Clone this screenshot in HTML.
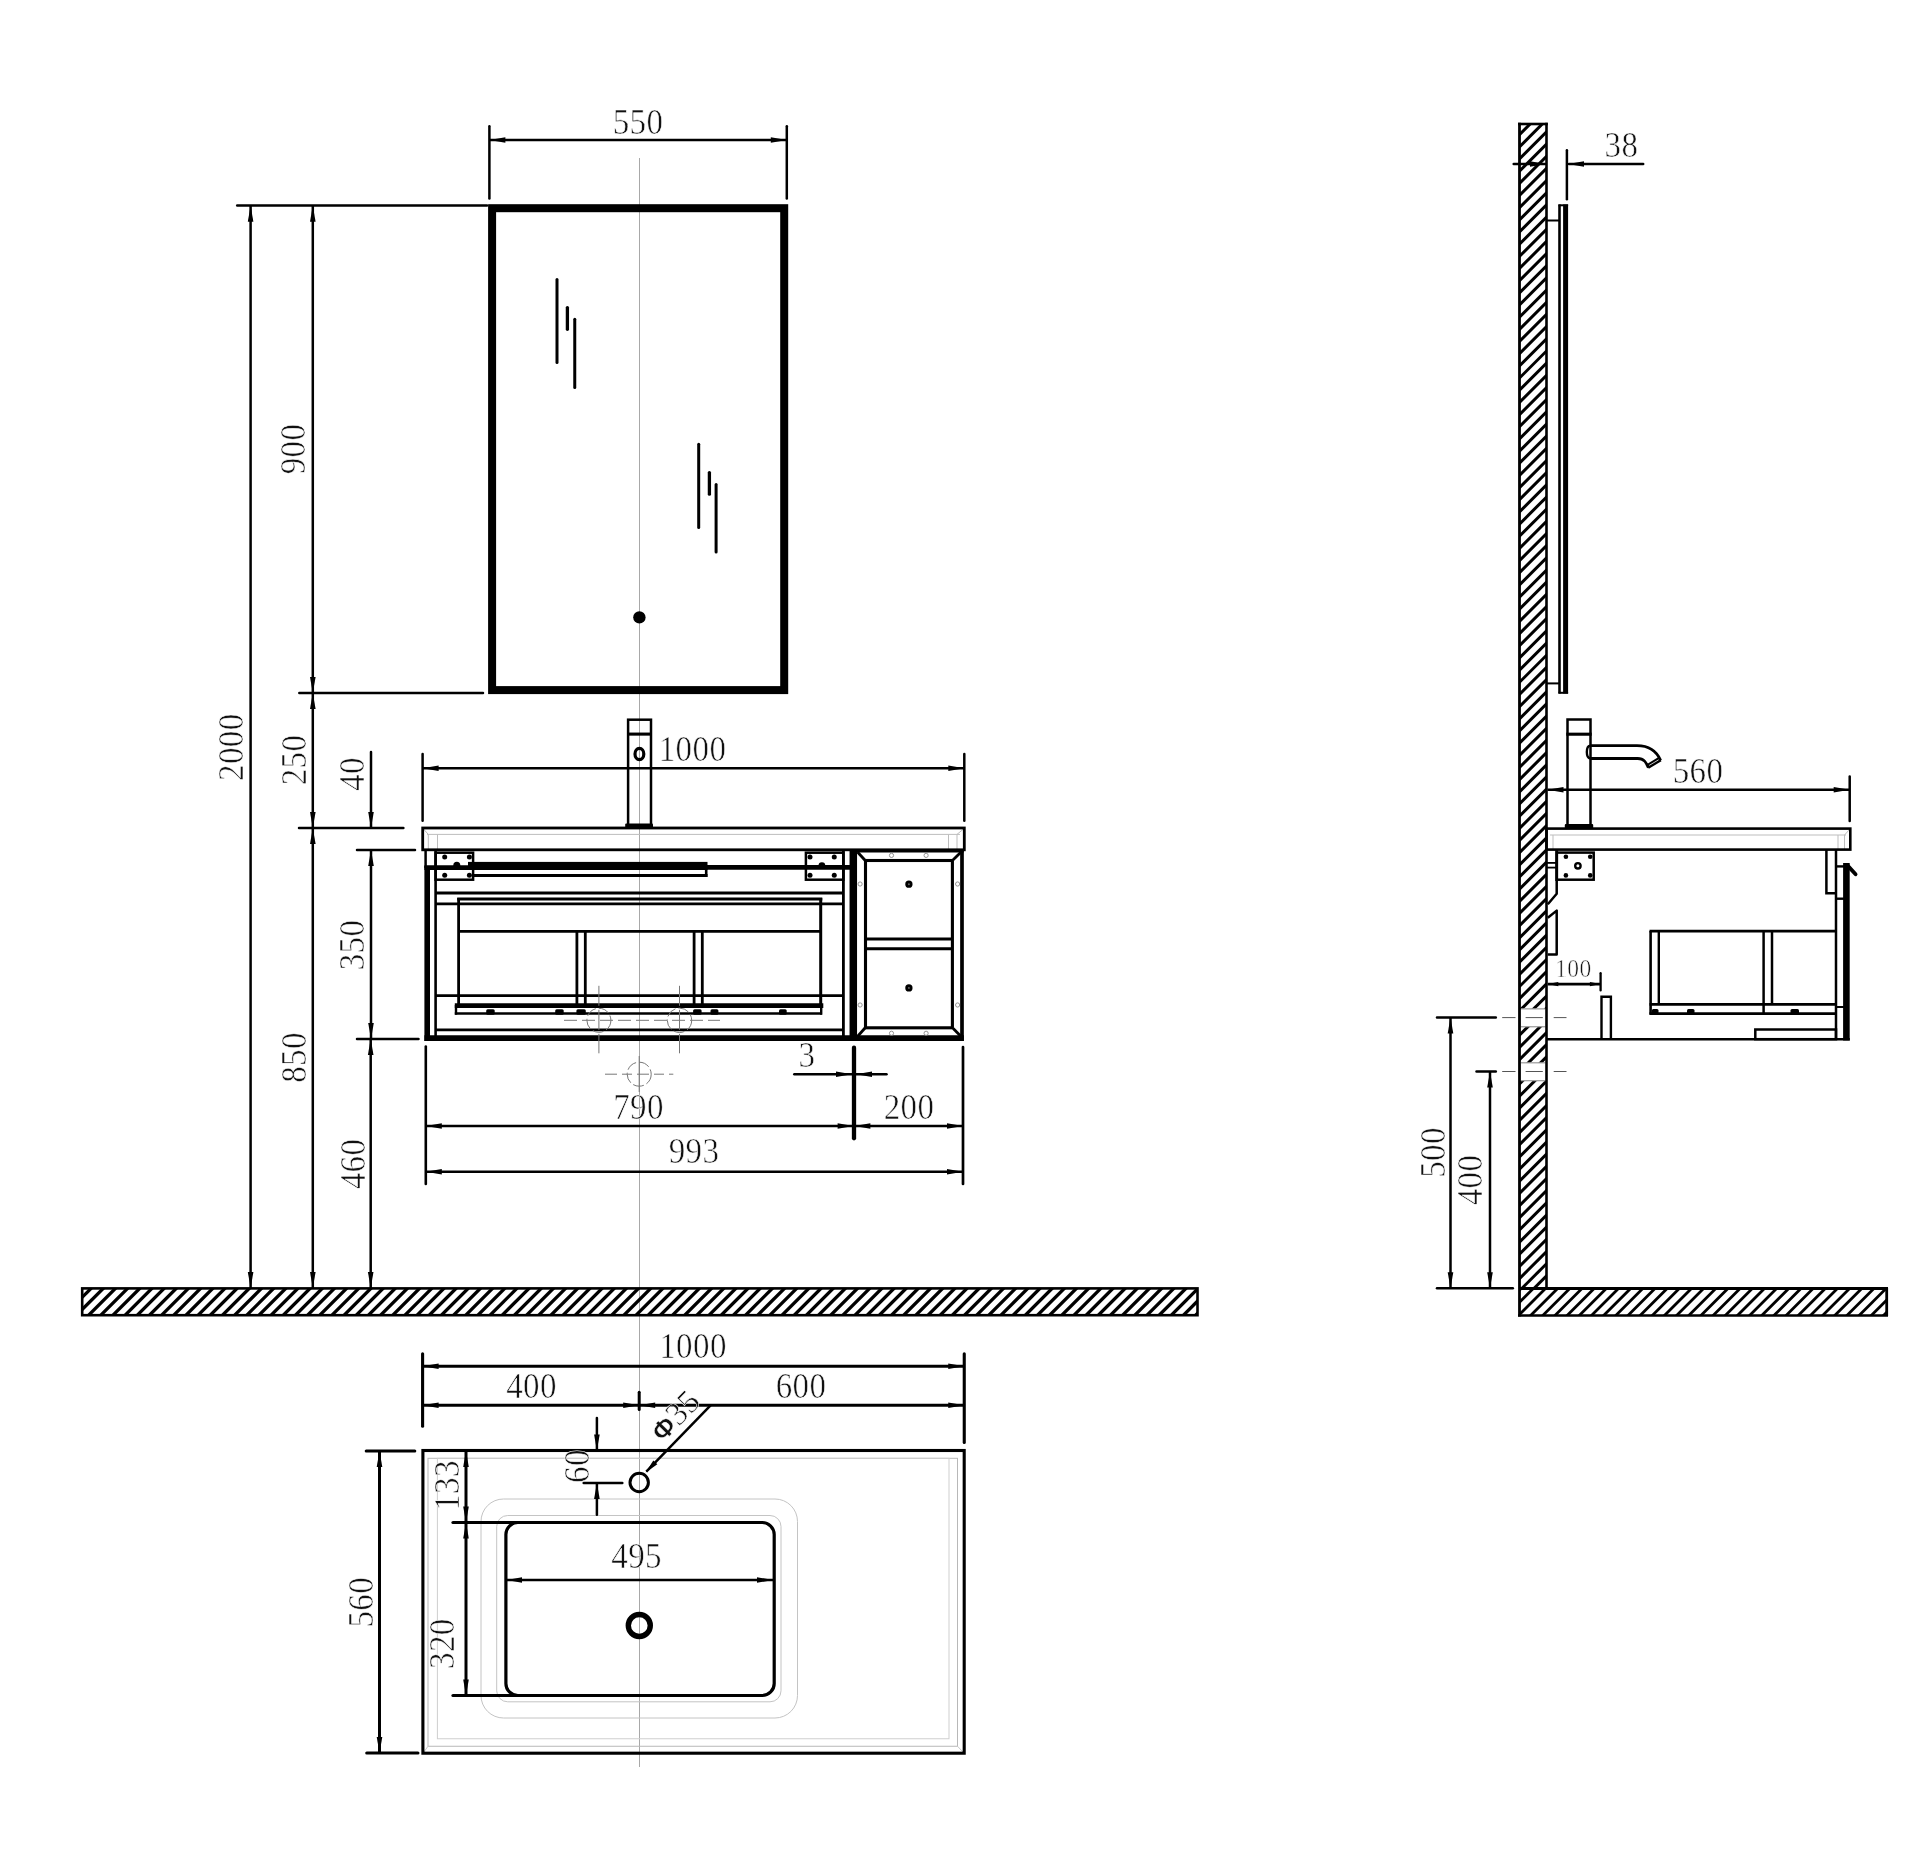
<!DOCTYPE html>
<html><head><meta charset="utf-8"><title>Vanity drawing</title>
<style>
html,body{margin:0;padding:0;background:#fff}
svg{display:block;will-change:transform}
text{font-family:"Liberation Serif",serif;fill:#111;letter-spacing:0.4px;stroke:#fff;stroke-width:0.55px}
</style></head><body>
<svg width="1920" height="1856" viewBox="0 0 1920 1856">
<rect width="1920" height="1856" fill="#fff"/>
<line x1="639.5" y1="158" x2="639.5" y2="1767" stroke="#a8a8a8" stroke-width="1" stroke-linecap="butt"/>
<clipPath id="hf"><rect x="82.2" y="1288.4" width="1115.3" height="26.8"/></clipPath>
<g clip-path="url(#hf)" stroke="#000" stroke-width="3.3">
<line x1="71.77" y1="1283.4" x2="34.97" y2="1320.2"/>
<line x1="83.94" y1="1283.4" x2="47.14" y2="1320.2"/>
<line x1="96.1" y1="1283.4" x2="59.3" y2="1320.2"/>
<line x1="108.26" y1="1283.4" x2="71.47" y2="1320.2"/>
<line x1="120.43" y1="1283.4" x2="83.63" y2="1320.2"/>
<line x1="132.59" y1="1283.4" x2="95.8" y2="1320.2"/>
<line x1="144.76" y1="1283.4" x2="107.96" y2="1320.2"/>
<line x1="156.92" y1="1283.4" x2="120.13" y2="1320.2"/>
<line x1="169.09" y1="1283.4" x2="132.29" y2="1320.2"/>
<line x1="181.25" y1="1283.4" x2="144.46" y2="1320.2"/>
<line x1="193.42" y1="1283.4" x2="156.62" y2="1320.2"/>
<line x1="205.58" y1="1283.4" x2="168.79" y2="1320.2"/>
<line x1="217.75" y1="1283.4" x2="180.95" y2="1320.2"/>
<line x1="229.91" y1="1283.4" x2="193.12" y2="1320.2"/>
<line x1="242.08" y1="1283.4" x2="205.28" y2="1320.2"/>
<line x1="254.24" y1="1283.4" x2="217.45" y2="1320.2"/>
<line x1="266.41" y1="1283.4" x2="229.61" y2="1320.2"/>
<line x1="278.57" y1="1283.4" x2="241.78" y2="1320.2"/>
<line x1="290.74" y1="1283.4" x2="253.94" y2="1320.2"/>
<line x1="302.9" y1="1283.4" x2="266.11" y2="1320.2"/>
<line x1="315.07" y1="1283.4" x2="278.27" y2="1320.2"/>
<line x1="327.24" y1="1283.4" x2="290.44" y2="1320.2"/>
<line x1="339.4" y1="1283.4" x2="302.6" y2="1320.2"/>
<line x1="351.56" y1="1283.4" x2="314.76" y2="1320.2"/>
<line x1="363.73" y1="1283.4" x2="326.93" y2="1320.2"/>
<line x1="375.89" y1="1283.4" x2="339.1" y2="1320.2"/>
<line x1="388.06" y1="1283.4" x2="351.26" y2="1320.2"/>
<line x1="400.23" y1="1283.4" x2="363.43" y2="1320.2"/>
<line x1="412.39" y1="1283.4" x2="375.59" y2="1320.2"/>
<line x1="424.55" y1="1283.4" x2="387.75" y2="1320.2"/>
<line x1="436.72" y1="1283.4" x2="399.92" y2="1320.2"/>
<line x1="448.88" y1="1283.4" x2="412.09" y2="1320.2"/>
<line x1="461.05" y1="1283.4" x2="424.25" y2="1320.2"/>
<line x1="473.21" y1="1283.4" x2="436.41" y2="1320.2"/>
<line x1="485.38" y1="1283.4" x2="448.58" y2="1320.2"/>
<line x1="497.54" y1="1283.4" x2="460.75" y2="1320.2"/>
<line x1="509.71" y1="1283.4" x2="472.91" y2="1320.2"/>
<line x1="521.88" y1="1283.4" x2="485.08" y2="1320.2"/>
<line x1="534.04" y1="1283.4" x2="497.24" y2="1320.2"/>
<line x1="546.2" y1="1283.4" x2="509.4" y2="1320.2"/>
<line x1="558.37" y1="1283.4" x2="521.57" y2="1320.2"/>
<line x1="570.53" y1="1283.4" x2="533.74" y2="1320.2"/>
<line x1="582.7" y1="1283.4" x2="545.9" y2="1320.2"/>
<line x1="594.87" y1="1283.4" x2="558.07" y2="1320.2"/>
<line x1="607.03" y1="1283.4" x2="570.23" y2="1320.2"/>
<line x1="619.19" y1="1283.4" x2="582.39" y2="1320.2"/>
<line x1="631.36" y1="1283.4" x2="594.56" y2="1320.2"/>
<line x1="643.52" y1="1283.4" x2="606.73" y2="1320.2"/>
<line x1="655.69" y1="1283.4" x2="618.89" y2="1320.2"/>
<line x1="667.86" y1="1283.4" x2="631.06" y2="1320.2"/>
<line x1="680.02" y1="1283.4" x2="643.22" y2="1320.2"/>
<line x1="692.18" y1="1283.4" x2="655.38" y2="1320.2"/>
<line x1="704.35" y1="1283.4" x2="667.55" y2="1320.2"/>
<line x1="716.51" y1="1283.4" x2="679.72" y2="1320.2"/>
<line x1="728.68" y1="1283.4" x2="691.88" y2="1320.2"/>
<line x1="740.85" y1="1283.4" x2="704.05" y2="1320.2"/>
<line x1="753.01" y1="1283.4" x2="716.21" y2="1320.2"/>
<line x1="765.17" y1="1283.4" x2="728.38" y2="1320.2"/>
<line x1="777.34" y1="1283.4" x2="740.54" y2="1320.2"/>
<line x1="789.5" y1="1283.4" x2="752.71" y2="1320.2"/>
<line x1="801.67" y1="1283.4" x2="764.87" y2="1320.2"/>
<line x1="813.83" y1="1283.4" x2="777.03" y2="1320.2"/>
<line x1="826" y1="1283.4" x2="789.2" y2="1320.2"/>
<line x1="838.16" y1="1283.4" x2="801.37" y2="1320.2"/>
<line x1="850.33" y1="1283.4" x2="813.53" y2="1320.2"/>
<line x1="862.5" y1="1283.4" x2="825.7" y2="1320.2"/>
<line x1="874.66" y1="1283.4" x2="837.86" y2="1320.2"/>
<line x1="886.82" y1="1283.4" x2="850.02" y2="1320.2"/>
<line x1="898.99" y1="1283.4" x2="862.19" y2="1320.2"/>
<line x1="911.15" y1="1283.4" x2="874.36" y2="1320.2"/>
<line x1="923.32" y1="1283.4" x2="886.52" y2="1320.2"/>
<line x1="935.49" y1="1283.4" x2="898.69" y2="1320.2"/>
<line x1="947.65" y1="1283.4" x2="910.85" y2="1320.2"/>
<line x1="959.81" y1="1283.4" x2="923.01" y2="1320.2"/>
<line x1="971.98" y1="1283.4" x2="935.18" y2="1320.2"/>
<line x1="984.14" y1="1283.4" x2="947.35" y2="1320.2"/>
<line x1="996.31" y1="1283.4" x2="959.51" y2="1320.2"/>
<line x1="1008.47" y1="1283.4" x2="971.67" y2="1320.2"/>
<line x1="1020.64" y1="1283.4" x2="983.84" y2="1320.2"/>
<line x1="1032.8" y1="1283.4" x2="996" y2="1320.2"/>
<line x1="1044.97" y1="1283.4" x2="1008.17" y2="1320.2"/>
<line x1="1057.13" y1="1283.4" x2="1020.34" y2="1320.2"/>
<line x1="1069.3" y1="1283.4" x2="1032.5" y2="1320.2"/>
<line x1="1081.46" y1="1283.4" x2="1044.66" y2="1320.2"/>
<line x1="1093.63" y1="1283.4" x2="1056.83" y2="1320.2"/>
<line x1="1105.79" y1="1283.4" x2="1068.99" y2="1320.2"/>
<line x1="1117.96" y1="1283.4" x2="1081.16" y2="1320.2"/>
<line x1="1130.12" y1="1283.4" x2="1093.32" y2="1320.2"/>
<line x1="1142.29" y1="1283.4" x2="1105.49" y2="1320.2"/>
<line x1="1154.45" y1="1283.4" x2="1117.65" y2="1320.2"/>
<line x1="1166.62" y1="1283.4" x2="1129.82" y2="1320.2"/>
<line x1="1178.78" y1="1283.4" x2="1141.98" y2="1320.2"/>
<line x1="1190.95" y1="1283.4" x2="1154.15" y2="1320.2"/>
<line x1="1203.11" y1="1283.4" x2="1166.31" y2="1320.2"/>
<line x1="1215.28" y1="1283.4" x2="1178.48" y2="1320.2"/>
<line x1="1227.44" y1="1283.4" x2="1190.64" y2="1320.2"/>
<line x1="1239.61" y1="1283.4" x2="1202.81" y2="1320.2"/>
</g>
<rect x="82.2" y="1288.4" width="1115.3" height="26.8" rx="0" fill="none" stroke="#000" stroke-width="2.6"/>
<rect x="492.1" y="208.2" width="292.1" height="481.9" rx="0" fill="none" stroke="#000" stroke-width="8"/>
<line x1="557" y1="279.4" x2="557" y2="362.6" stroke="#000" stroke-width="3" stroke-linecap="round"/>
<line x1="567.4" y1="307.62" x2="567.4" y2="329.28" stroke="#000" stroke-width="3.3" stroke-linecap="round"/>
<line x1="574.75" y1="319.3" x2="574.75" y2="387.5" stroke="#000" stroke-width="3" stroke-linecap="round"/>
<line x1="698.7" y1="444.3" x2="698.7" y2="527.5" stroke="#000" stroke-width="3" stroke-linecap="round"/>
<line x1="709.4" y1="472.57" x2="709.4" y2="494.18" stroke="#000" stroke-width="3.3" stroke-linecap="round"/>
<line x1="716.1" y1="484.45" x2="716.1" y2="552.05" stroke="#000" stroke-width="3" stroke-linecap="round"/>
<circle cx="639.4" cy="617.4" r="6.2" fill="#000"/>
<line x1="489.4" y1="126.3" x2="489.4" y2="198.4" stroke="#000" stroke-width="2.5" stroke-linecap="round"/>
<line x1="786.8" y1="126.3" x2="786.8" y2="198.4" stroke="#000" stroke-width="2.5" stroke-linecap="round"/>
<line x1="489.4" y1="140" x2="786.8" y2="140" stroke="#000" stroke-width="2.5" stroke-linecap="butt"/>
<polygon points="489.4,140 505.4,137.2 505.4,142.8" fill="#000"/>
<polygon points="786.8,140 770.8,142.8 770.8,137.2" fill="#000"/>
<text font-size="33" text-anchor="middle" transform="translate(638 134.1) scale(1 1.06)">550</text>
<line x1="237.2" y1="205.5" x2="487" y2="205.5" stroke="#000" stroke-width="2.5" stroke-linecap="round"/>
<line x1="299.3" y1="693" x2="483" y2="693" stroke="#000" stroke-width="2.5" stroke-linecap="round"/>
<line x1="299" y1="828.1" x2="403.4" y2="828.1" stroke="#000" stroke-width="2.5" stroke-linecap="round"/>
<line x1="250.6" y1="205.8" x2="250.6" y2="1288" stroke="#000" stroke-width="2.5" stroke-linecap="butt"/>
<polygon points="250.6,205.8 253.4,221.8 247.8,221.8" fill="#000"/>
<polygon points="250.6,1288 247.8,1272 253.4,1272" fill="#000"/>
<line x1="312.8" y1="205.8" x2="312.8" y2="693" stroke="#000" stroke-width="2.5" stroke-linecap="butt"/>
<polygon points="312.8,205.8 315.6,221.8 310,221.8" fill="#000"/>
<polygon points="312.8,693 310,677 315.6,677" fill="#000"/>
<line x1="312.8" y1="693" x2="312.8" y2="828.1" stroke="#000" stroke-width="2.5" stroke-linecap="butt"/>
<polygon points="312.8,693 315.6,709 310,709" fill="#000"/>
<polygon points="312.8,828.1 310,812.1 315.6,812.1" fill="#000"/>
<line x1="312.8" y1="828.1" x2="312.8" y2="1288" stroke="#000" stroke-width="2.5" stroke-linecap="butt"/>
<polygon points="312.8,828.1 315.6,844.1 310,844.1" fill="#000"/>
<polygon points="312.8,1288 310,1272 315.6,1272" fill="#000"/>
<text font-size="33" text-anchor="middle" transform="translate(304.6 449) rotate(-90) scale(1 1.06)">900</text>
<text font-size="33" text-anchor="middle" transform="translate(305.6 760) rotate(-90) scale(1 1.06)">250</text>
<text font-size="33" text-anchor="middle" transform="translate(305.6 1057.5) rotate(-90) scale(1 1.06)">850</text>
<text font-size="33" text-anchor="middle" transform="translate(243.35 747.2) rotate(-90) scale(1 1.06)">2000</text>
<line x1="371" y1="752" x2="371" y2="827" stroke="#000" stroke-width="2.5" stroke-linecap="round"/>
<polygon points="371,828 368.2,812 373.8,812" fill="#000"/>
<text font-size="33" text-anchor="middle" transform="translate(364.1 774) rotate(-90) scale(1 1.06)">40</text>
<line x1="357" y1="850" x2="415" y2="850" stroke="#000" stroke-width="2.5" stroke-linecap="round"/>
<line x1="357" y1="1039" x2="418.5" y2="1039" stroke="#000" stroke-width="2.5" stroke-linecap="round"/>
<line x1="371" y1="850" x2="371" y2="1039" stroke="#000" stroke-width="2.5" stroke-linecap="butt"/>
<polygon points="371,850 373.8,866 368.2,866" fill="#000"/>
<polygon points="371,1039 368.2,1023 373.8,1023" fill="#000"/>
<text font-size="33" text-anchor="middle" transform="translate(364.1 945) rotate(-90) scale(1 1.06)">350</text>
<line x1="370.7" y1="1039" x2="370.7" y2="1288" stroke="#000" stroke-width="2.5" stroke-linecap="butt"/>
<polygon points="370.7,1039 373.5,1055 367.9,1055" fill="#000"/>
<polygon points="370.7,1288 367.9,1272 373.5,1272" fill="#000"/>
<text font-size="33" text-anchor="middle" transform="translate(364.6 1164) rotate(-90) scale(1 1.06)">460</text>
<line x1="422.6" y1="754" x2="422.6" y2="820.7" stroke="#000" stroke-width="2.5" stroke-linecap="round"/>
<line x1="964.3" y1="754" x2="964.3" y2="820.7" stroke="#000" stroke-width="2.5" stroke-linecap="round"/>
<line x1="422.6" y1="768.3" x2="964.3" y2="768.3" stroke="#000" stroke-width="2.5" stroke-linecap="butt"/>
<polygon points="422.6,768.3 438.6,765.5 438.6,771.1" fill="#000"/>
<polygon points="964.3,768.3 948.3,771.1 948.3,765.5" fill="#000"/>
<text font-size="33" text-anchor="middle" transform="translate(692.5 760.5) scale(1 1.06)">1000</text>
<rect x="628.1" y="719.7" width="22.9" height="106.3" rx="0" fill="none" stroke="#000" stroke-width="2.5"/>
<line x1="627" y1="734.1" x2="652" y2="734.1" stroke="#000" stroke-width="3.1" stroke-linecap="butt"/>
<rect x="625.2" y="823.6" width="27.8" height="5.4" rx="1" fill="#000"/>
<ellipse cx="639.4" cy="754" rx="4.4" ry="5.7" fill="none" stroke="#000" stroke-width="3.2"/>
<line x1="427" y1="834.4" x2="960" y2="834.4" stroke="#bdbdbd" stroke-width="1" stroke-linecap="butt"/>
<line x1="428.3" y1="834.4" x2="428.3" y2="849" stroke="#bdbdbd" stroke-width="1" stroke-linecap="butt"/>
<line x1="437.5" y1="834.4" x2="437.5" y2="849" stroke="#bdbdbd" stroke-width="1" stroke-linecap="butt"/>
<line x1="948.5" y1="834.4" x2="948.5" y2="849" stroke="#bdbdbd" stroke-width="1" stroke-linecap="butt"/>
<line x1="957" y1="834.4" x2="957" y2="849" stroke="#bdbdbd" stroke-width="1" stroke-linecap="butt"/>
<line x1="957" y1="834.4" x2="963.5" y2="829" stroke="#bdbdbd" stroke-width="1" stroke-linecap="butt"/>
<line x1="428.3" y1="834.4" x2="423.5" y2="829" stroke="#bdbdbd" stroke-width="1" stroke-linecap="butt"/>
<rect x="422.7" y="828" width="541.6" height="21.8" rx="0" fill="none" stroke="#000" stroke-width="2.8"/>
<line x1="425.6" y1="850" x2="425.6" y2="868" stroke="#000" stroke-width="2.5" stroke-linecap="butt"/>
<line x1="427.2" y1="866" x2="427.2" y2="1040.9" stroke="#000" stroke-width="5.6" stroke-linecap="butt"/>
<line x1="435.6" y1="850" x2="435.6" y2="1038" stroke="#000" stroke-width="2.6" stroke-linecap="butt"/>
<line x1="424.4" y1="867.7" x2="468.5" y2="867.7" stroke="#000" stroke-width="4.7" stroke-linecap="butt"/>
<rect x="435.6" y="852.7" width="37.5" height="27" rx="0" fill="none" stroke="#000" stroke-width="2.5"/>
<circle cx="444.7" cy="856.9" r="2.5" fill="#000"/>
<circle cx="444.7" cy="875.3" r="2.5" fill="#000"/>
<circle cx="469.4" cy="856.9" r="2.5" fill="#000"/>
<circle cx="469.4" cy="875.3" r="2.5" fill="#000"/>
<circle cx="456.8" cy="865.3" r="3.5" fill="#000"/>
<rect x="468" y="861.9" width="239.5" height="8.1" rx="0" fill="#000"/>
<line x1="473" y1="875.5" x2="707.5" y2="875.5" stroke="#000" stroke-width="2.8" stroke-linecap="butt"/>
<line x1="706.2" y1="869" x2="706.2" y2="876.9" stroke="#000" stroke-width="2.6" stroke-linecap="butt"/>
<line x1="707" y1="867.3" x2="851" y2="867.3" stroke="#000" stroke-width="4.7" stroke-linecap="butt"/>
<rect x="805.9" y="852.7" width="37.5" height="27" rx="0" fill="none" stroke="#000" stroke-width="2.5"/>
<circle cx="810" cy="856.9" r="2.5" fill="#000"/>
<circle cx="810" cy="875.3" r="2.5" fill="#000"/>
<circle cx="834.25" cy="856.9" r="2.5" fill="#000"/>
<circle cx="834.25" cy="875.3" r="2.5" fill="#000"/>
<circle cx="821.9" cy="865.6" r="3.4" fill="#000"/>
<line x1="843.4" y1="850" x2="843.4" y2="1038" stroke="#000" stroke-width="2.8" stroke-linecap="butt"/>
<line x1="853.3" y1="850" x2="853.3" y2="1040.9" stroke="#000" stroke-width="7.5" stroke-linecap="butt"/>
<line x1="435.6" y1="893" x2="843.4" y2="893" stroke="#000" stroke-width="2.8" stroke-linecap="butt"/>
<line x1="435.6" y1="903.9" x2="843.4" y2="903.9" stroke="#000" stroke-width="2.7" stroke-linecap="butt"/>
<line x1="457.2" y1="898.9" x2="822.3" y2="898.9" stroke="#000" stroke-width="3" stroke-linecap="butt"/>
<line x1="458.6" y1="898" x2="458.6" y2="1004" stroke="#000" stroke-width="2.8" stroke-linecap="butt"/>
<line x1="820.7" y1="898" x2="820.7" y2="1004" stroke="#000" stroke-width="3" stroke-linecap="butt"/>
<line x1="458" y1="931.4" x2="821" y2="931.4" stroke="#000" stroke-width="2.8" stroke-linecap="butt"/>
<line x1="576.9" y1="931" x2="576.9" y2="1004" stroke="#000" stroke-width="2.8" stroke-linecap="butt"/>
<line x1="585.3" y1="931" x2="585.3" y2="1004" stroke="#000" stroke-width="2.8" stroke-linecap="butt"/>
<line x1="694.1" y1="931" x2="694.1" y2="1004" stroke="#000" stroke-width="2.8" stroke-linecap="butt"/>
<line x1="702.3" y1="931" x2="702.3" y2="1004" stroke="#000" stroke-width="2.8" stroke-linecap="butt"/>
<line x1="435.6" y1="995.7" x2="843.4" y2="995.7" stroke="#000" stroke-width="2.8" stroke-linecap="butt"/>
<line x1="454.8" y1="1005.6" x2="823.3" y2="1005.6" stroke="#000" stroke-width="4.7" stroke-linecap="butt"/>
<line x1="454.8" y1="1013.5" x2="822" y2="1013.5" stroke="#000" stroke-width="2.5" stroke-linecap="butt"/>
<line x1="456" y1="1005" x2="456" y2="1014.7" stroke="#000" stroke-width="2.4" stroke-linecap="butt"/>
<line x1="821.2" y1="1005" x2="821.2" y2="1014.7" stroke="#000" stroke-width="2.4" stroke-linecap="butt"/>
<rect x="486.2" y="1009.2" width="8.5" height="5.6" rx="1.5" fill="#000"/>
<rect x="555.2" y="1009.2" width="8.5" height="5.6" rx="1.5" fill="#000"/>
<rect x="576.4" y="1009.2" width="9.4" height="5.6" rx="1.5" fill="#000"/>
<rect x="693.1" y="1009.2" width="8.5" height="5.6" rx="1.5" fill="#000"/>
<rect x="710.5" y="1009.2" width="7.9" height="5.6" rx="1.5" fill="#000"/>
<rect x="779" y="1009.2" width="7.7" height="5.6" rx="1.5" fill="#000"/>
<line x1="435.6" y1="1029.8" x2="843.4" y2="1029.8" stroke="#000" stroke-width="2.7" stroke-linecap="butt"/>
<line x1="424.4" y1="1038.1" x2="963.9" y2="1038.1" stroke="#000" stroke-width="5.6" stroke-linecap="butt"/>
<line x1="853" y1="851.4" x2="963.8" y2="851.4" stroke="#000" stroke-width="2" stroke-linecap="butt"/>
<line x1="962" y1="850" x2="962" y2="1040.9" stroke="#000" stroke-width="3.7" stroke-linecap="butt"/>
<rect x="865.5" y="860.5" width="86.9" height="167.3" rx="0" fill="none" stroke="#000" stroke-width="3.1"/>
<line x1="857.5" y1="852" x2="865" y2="860.3" stroke="#000" stroke-width="2.8" stroke-linecap="butt"/>
<line x1="961.6" y1="851.4" x2="953.2" y2="859.8" stroke="#000" stroke-width="2.8" stroke-linecap="butt"/>
<line x1="857.5" y1="1036.5" x2="865" y2="1028" stroke="#000" stroke-width="2.8" stroke-linecap="butt"/>
<line x1="961.6" y1="1037" x2="953.2" y2="1028.4" stroke="#000" stroke-width="2.8" stroke-linecap="butt"/>
<line x1="865.5" y1="939" x2="952.4" y2="939" stroke="#000" stroke-width="3" stroke-linecap="butt"/>
<line x1="865.5" y1="948.7" x2="952.4" y2="948.7" stroke="#000" stroke-width="3" stroke-linecap="butt"/>
<circle cx="908.9" cy="884.2" r="2.3" fill="#666" stroke="#000" stroke-width="2.7"/>
<circle cx="908.9" cy="987.9" r="2.3" fill="#666" stroke="#000" stroke-width="2.7"/>
<circle cx="891.5" cy="855.4" r="2.1" fill="none" stroke="#8a8a8a" stroke-width="0.9"/>
<circle cx="926.1" cy="855.4" r="2.1" fill="none" stroke="#8a8a8a" stroke-width="0.9"/>
<circle cx="860.1" cy="884" r="2.1" fill="none" stroke="#8a8a8a" stroke-width="0.9"/>
<circle cx="957.6" cy="884" r="2.1" fill="none" stroke="#8a8a8a" stroke-width="0.9"/>
<circle cx="860.1" cy="1005" r="2.1" fill="none" stroke="#8a8a8a" stroke-width="0.9"/>
<circle cx="957.6" cy="1005" r="2.1" fill="none" stroke="#8a8a8a" stroke-width="0.9"/>
<circle cx="891.5" cy="1033.3" r="2.1" fill="none" stroke="#8a8a8a" stroke-width="0.9"/>
<circle cx="926.1" cy="1033.3" r="2.1" fill="none" stroke="#8a8a8a" stroke-width="0.9"/>
<circle cx="598.9" cy="1020.3" r="12" fill="none" stroke="#777" stroke-width="1" stroke-dasharray="11 3"/>
<circle cx="679.5" cy="1020.3" r="12.2" fill="none" stroke="#777" stroke-width="1" stroke-dasharray="11 3"/>
<circle cx="639.2" cy="1074.2" r="12" fill="none" stroke="#777" stroke-width="1" stroke-dasharray="11 3"/>
<line x1="564" y1="1020.3" x2="720" y2="1020.3" stroke="#777" stroke-width="1" stroke-linecap="butt" stroke-dasharray="13 5"/>
<line x1="598.9" y1="985.8" x2="598.9" y2="1053.3" stroke="#777" stroke-width="1" stroke-linecap="butt" stroke-dasharray="20 4"/>
<line x1="679.5" y1="985.8" x2="679.5" y2="1053.3" stroke="#777" stroke-width="1" stroke-linecap="butt" stroke-dasharray="20 4"/>
<line x1="605" y1="1074.2" x2="673.3" y2="1074.2" stroke="#777" stroke-width="1" stroke-linecap="butt" stroke-dasharray="12 5 10 5"/>
<line x1="639.2" y1="1056" x2="639.2" y2="1092" stroke="#777" stroke-width="1" stroke-linecap="butt"/>
<line x1="425.8" y1="1046.54" x2="425.8" y2="1183.96" stroke="#000" stroke-width="2.6" stroke-linecap="round"/>
<line x1="854" y1="1047.72" x2="854" y2="1138.28" stroke="#000" stroke-width="4.3" stroke-linecap="round"/>
<line x1="963" y1="1047.08" x2="963" y2="1183.92" stroke="#000" stroke-width="2.7" stroke-linecap="round"/>
<line x1="425.8" y1="1126" x2="853.6" y2="1126" stroke="#000" stroke-width="2.5" stroke-linecap="butt"/>
<polygon points="425.8,1126 441.8,1123.2 441.8,1128.8" fill="#000"/>
<polygon points="853.6,1126 837.6,1128.8 837.6,1123.2" fill="#000"/>
<line x1="854.4" y1="1126" x2="963" y2="1126" stroke="#000" stroke-width="2.5" stroke-linecap="butt"/>
<polygon points="854.4,1126 870.4,1123.2 870.4,1128.8" fill="#000"/>
<polygon points="963,1126 947,1128.8 947,1123.2" fill="#000"/>
<line x1="425.8" y1="1171.7" x2="963" y2="1171.7" stroke="#000" stroke-width="2.5" stroke-linecap="butt"/>
<polygon points="425.8,1171.7 441.8,1168.9 441.8,1174.5" fill="#000"/>
<polygon points="963,1171.7 947,1174.5 947,1168.9" fill="#000"/>
<text font-size="33" text-anchor="middle" transform="translate(638.5 1119) scale(1 1.06)">790</text>
<text font-size="33" text-anchor="middle" transform="translate(909 1119) scale(1 1.06)">200</text>
<text font-size="33" text-anchor="middle" transform="translate(694 1163.2) scale(1 1.06)">993</text>
<line x1="794.3" y1="1074.2" x2="852" y2="1074.2" stroke="#000" stroke-width="2.5" stroke-linecap="round"/>
<polygon points="852,1074.2 836,1077 836,1071.4" fill="#000"/>
<line x1="856" y1="1074.2" x2="886.5" y2="1074.2" stroke="#000" stroke-width="2.5" stroke-linecap="round"/>
<polygon points="856,1074.2 872,1071.4 872,1077" fill="#000"/>
<text font-size="33" text-anchor="middle" transform="translate(807 1066.5) scale(1 1.06)">3</text>
<line x1="422.6" y1="1353.74" x2="422.6" y2="1426.26" stroke="#000" stroke-width="3.1" stroke-linecap="round"/>
<line x1="964.25" y1="1353.74" x2="964.25" y2="1442.51" stroke="#000" stroke-width="3.1" stroke-linecap="round"/>
<line x1="422.6" y1="1366.25" x2="964.25" y2="1366.25" stroke="#000" stroke-width="3" stroke-linecap="butt"/>
<polygon points="422.6,1366.25 438.6,1363.45 438.6,1369.05" fill="#000"/>
<polygon points="964.25,1366.25 948.25,1369.05 948.25,1363.45" fill="#000"/>
<line x1="422.6" y1="1405.2" x2="639.2" y2="1405.2" stroke="#000" stroke-width="3" stroke-linecap="butt"/>
<polygon points="422.6,1405.2 438.6,1402.4 438.6,1408" fill="#000"/>
<polygon points="639.2,1405.2 623.2,1408 623.2,1402.4" fill="#000"/>
<line x1="639.2" y1="1405.2" x2="964.25" y2="1405.2" stroke="#000" stroke-width="3" stroke-linecap="butt"/>
<polygon points="639.2,1405.2 655.2,1402.4 655.2,1408" fill="#000"/>
<polygon points="964.25,1405.2 948.25,1408 948.25,1402.4" fill="#000"/>
<line x1="639.2" y1="1392.2" x2="639.2" y2="1409.4" stroke="#000" stroke-width="3" stroke-linecap="round"/>
<text font-size="33" text-anchor="middle" transform="translate(693 1358.2) scale(1 1.06)">1000</text>
<text font-size="33" text-anchor="middle" transform="translate(531.5 1398.2) scale(1 1.06)">400</text>
<text font-size="33" text-anchor="middle" transform="translate(801 1398.2) scale(1 1.06)">600</text>
<rect x="428" y="1458.3" width="529.5" height="287.95" rx="0" fill="none" stroke="#b8b8b8" stroke-width="1"/>
<rect x="437.4" y="1458.3" width="511.6" height="280.45" rx="0" fill="none" stroke="#cfcfcf" stroke-width="1"/>
<line x1="957.5" y1="1746.25" x2="963.5" y2="1752.5" stroke="#c8c8c8" stroke-width="1" stroke-linecap="butt"/>
<line x1="423.5" y1="1752.5" x2="428" y2="1746.25" stroke="#c8c8c8" stroke-width="1" stroke-linecap="butt"/>
<rect x="481" y="1499" width="316.5" height="219" rx="22.5" fill="none" stroke="#c4c4c4" stroke-width="1"/>
<rect x="496.7" y="1515.5" width="284.3" height="186.3" rx="11" fill="none" stroke="#c4c4c4" stroke-width="1"/>
<rect x="422.9" y="1450.5" width="541.3" height="302.7" rx="0" fill="none" stroke="#000" stroke-width="3.1"/>
<rect x="505.9" y="1522.5" width="268.3" height="173" rx="12" fill="none" stroke="#000" stroke-width="3.2"/>
<line x1="366.2" y1="1451" x2="414.8" y2="1451" stroke="#000" stroke-width="3" stroke-linecap="round"/>
<line x1="366.78" y1="1753" x2="417.92" y2="1753" stroke="#000" stroke-width="3.2" stroke-linecap="round"/>
<line x1="379.5" y1="1451" x2="379.5" y2="1753" stroke="#000" stroke-width="3" stroke-linecap="butt"/>
<polygon points="379.5,1451 382.3,1467 376.7,1467" fill="#000"/>
<polygon points="379.5,1753 376.7,1737 382.3,1737" fill="#000"/>
<text font-size="33" text-anchor="middle" transform="translate(372.9 1602.2) rotate(-90) scale(1 1.06)">560</text>
<line x1="452.98" y1="1522.5" x2="521.22" y2="1522.5" stroke="#000" stroke-width="3.2" stroke-linecap="round"/>
<line x1="452.98" y1="1695.5" x2="521.22" y2="1695.5" stroke="#000" stroke-width="3.2" stroke-linecap="round"/>
<line x1="466" y1="1451" x2="466" y2="1522.5" stroke="#000" stroke-width="3" stroke-linecap="butt"/>
<polygon points="466,1451 468.8,1467 463.2,1467" fill="#000"/>
<polygon points="466,1522.5 463.2,1506.5 468.8,1506.5" fill="#000"/>
<line x1="466" y1="1522.5" x2="466" y2="1695.5" stroke="#000" stroke-width="3" stroke-linecap="butt"/>
<polygon points="466,1522.5 468.8,1538.5 463.2,1538.5" fill="#000"/>
<polygon points="466,1695.5 463.2,1679.5 468.8,1679.5" fill="#000"/>
<text font-size="33" text-anchor="middle" transform="translate(458.9 1485.5) rotate(-90) scale(1 1.06)">133</text>
<text font-size="33" text-anchor="middle" transform="translate(453.5 1643.6) rotate(-90) scale(1 1.06)">320</text>
<line x1="596.9" y1="1418" x2="596.9" y2="1449" stroke="#000" stroke-width="2.5" stroke-linecap="round"/>
<polygon points="596.9,1450.5 594.1,1434.5 599.7,1434.5" fill="#000"/>
<line x1="596.9" y1="1484.5" x2="596.9" y2="1514.8" stroke="#000" stroke-width="2.5" stroke-linecap="round"/>
<polygon points="596.9,1483 599.7,1499 594.1,1499" fill="#000"/>
<line x1="583.7" y1="1483" x2="622.3" y2="1483" stroke="#000" stroke-width="2.5" stroke-linecap="round"/>
<text font-size="33" text-anchor="middle" transform="translate(589.1 1466) rotate(-90) scale(1 1.06)">60</text>
<circle cx="639.2" cy="1482.5" r="9.2" fill="none" stroke="#000" stroke-width="3"/>
<circle cx="639.3" cy="1625.5" r="11" fill="none" stroke="#000" stroke-width="5.4"/>
<line x1="506" y1="1580" x2="773" y2="1580" stroke="#000" stroke-width="2.5" stroke-linecap="butt"/>
<polygon points="506,1580 522,1577.2 522,1582.8" fill="#000"/>
<polygon points="773,1580 757,1582.8 757,1577.2" fill="#000"/>
<text font-size="33" text-anchor="middle" transform="translate(636.6 1568.2) scale(1 1.06)">495</text>
<line x1="710.8" y1="1405.2" x2="646.3" y2="1471.6" stroke="#000" stroke-width="2.5" stroke-linecap="butt"/>
<polygon points="645.6,1472.4 653.33,1460.4 657.35,1464.29" fill="#000"/>
<text font-size="33" transform="translate(663.1 1443.3) rotate(-45.9)" letter-spacing="3"><tspan font-family="Liberation Sans, sans-serif" font-weight="bold" font-size="27" dy="-0.5">Φ</tspan><tspan dy="0.5">35</tspan></text>
<clipPath id="hw"><rect x="1519.5" y="124" width="27" height="884.85"/><rect x="1519.5" y="1026.75" width="27" height="36.05"/><rect x="1519.5" y="1080.7" width="27" height="207.5"/></clipPath>
<g clip-path="url(#hw)" stroke="#000" stroke-width="3.0">
<line x1="1514.5" y1="139.6" x2="1551.5" y2="102.6"/>
<line x1="1514.5" y1="151.77" x2="1551.5" y2="114.77"/>
<line x1="1514.5" y1="163.94" x2="1551.5" y2="126.94"/>
<line x1="1514.5" y1="176.11" x2="1551.5" y2="139.11"/>
<line x1="1514.5" y1="188.28" x2="1551.5" y2="151.28"/>
<line x1="1514.5" y1="200.45" x2="1551.5" y2="163.45"/>
<line x1="1514.5" y1="212.62" x2="1551.5" y2="175.62"/>
<line x1="1514.5" y1="224.79" x2="1551.5" y2="187.79"/>
<line x1="1514.5" y1="236.96" x2="1551.5" y2="199.96"/>
<line x1="1514.5" y1="249.13" x2="1551.5" y2="212.13"/>
<line x1="1514.5" y1="261.3" x2="1551.5" y2="224.3"/>
<line x1="1514.5" y1="273.47" x2="1551.5" y2="236.47"/>
<line x1="1514.5" y1="285.64" x2="1551.5" y2="248.64"/>
<line x1="1514.5" y1="297.81" x2="1551.5" y2="260.81"/>
<line x1="1514.5" y1="309.98" x2="1551.5" y2="272.98"/>
<line x1="1514.5" y1="322.15" x2="1551.5" y2="285.15"/>
<line x1="1514.5" y1="334.32" x2="1551.5" y2="297.32"/>
<line x1="1514.5" y1="346.49" x2="1551.5" y2="309.49"/>
<line x1="1514.5" y1="358.66" x2="1551.5" y2="321.66"/>
<line x1="1514.5" y1="370.83" x2="1551.5" y2="333.83"/>
<line x1="1514.5" y1="383" x2="1551.5" y2="346"/>
<line x1="1514.5" y1="395.17" x2="1551.5" y2="358.17"/>
<line x1="1514.5" y1="407.34" x2="1551.5" y2="370.34"/>
<line x1="1514.5" y1="419.51" x2="1551.5" y2="382.51"/>
<line x1="1514.5" y1="431.68" x2="1551.5" y2="394.68"/>
<line x1="1514.5" y1="443.85" x2="1551.5" y2="406.85"/>
<line x1="1514.5" y1="456.02" x2="1551.5" y2="419.02"/>
<line x1="1514.5" y1="468.19" x2="1551.5" y2="431.19"/>
<line x1="1514.5" y1="480.36" x2="1551.5" y2="443.36"/>
<line x1="1514.5" y1="492.53" x2="1551.5" y2="455.53"/>
<line x1="1514.5" y1="504.7" x2="1551.5" y2="467.7"/>
<line x1="1514.5" y1="516.87" x2="1551.5" y2="479.87"/>
<line x1="1514.5" y1="529.04" x2="1551.5" y2="492.04"/>
<line x1="1514.5" y1="541.21" x2="1551.5" y2="504.21"/>
<line x1="1514.5" y1="553.38" x2="1551.5" y2="516.38"/>
<line x1="1514.5" y1="565.55" x2="1551.5" y2="528.55"/>
<line x1="1514.5" y1="577.72" x2="1551.5" y2="540.72"/>
<line x1="1514.5" y1="589.89" x2="1551.5" y2="552.89"/>
<line x1="1514.5" y1="602.06" x2="1551.5" y2="565.06"/>
<line x1="1514.5" y1="614.23" x2="1551.5" y2="577.23"/>
<line x1="1514.5" y1="626.4" x2="1551.5" y2="589.4"/>
<line x1="1514.5" y1="638.57" x2="1551.5" y2="601.57"/>
<line x1="1514.5" y1="650.74" x2="1551.5" y2="613.74"/>
<line x1="1514.5" y1="662.91" x2="1551.5" y2="625.91"/>
<line x1="1514.5" y1="675.08" x2="1551.5" y2="638.08"/>
<line x1="1514.5" y1="687.25" x2="1551.5" y2="650.25"/>
<line x1="1514.5" y1="699.42" x2="1551.5" y2="662.42"/>
<line x1="1514.5" y1="711.59" x2="1551.5" y2="674.59"/>
<line x1="1514.5" y1="723.76" x2="1551.5" y2="686.76"/>
<line x1="1514.5" y1="735.93" x2="1551.5" y2="698.93"/>
<line x1="1514.5" y1="748.1" x2="1551.5" y2="711.1"/>
<line x1="1514.5" y1="760.27" x2="1551.5" y2="723.27"/>
<line x1="1514.5" y1="772.44" x2="1551.5" y2="735.44"/>
<line x1="1514.5" y1="784.61" x2="1551.5" y2="747.61"/>
<line x1="1514.5" y1="796.78" x2="1551.5" y2="759.78"/>
<line x1="1514.5" y1="808.95" x2="1551.5" y2="771.95"/>
<line x1="1514.5" y1="821.12" x2="1551.5" y2="784.12"/>
<line x1="1514.5" y1="833.29" x2="1551.5" y2="796.29"/>
<line x1="1514.5" y1="845.46" x2="1551.5" y2="808.46"/>
<line x1="1514.5" y1="857.63" x2="1551.5" y2="820.63"/>
<line x1="1514.5" y1="869.8" x2="1551.5" y2="832.8"/>
<line x1="1514.5" y1="881.97" x2="1551.5" y2="844.97"/>
<line x1="1514.5" y1="894.14" x2="1551.5" y2="857.14"/>
<line x1="1514.5" y1="906.31" x2="1551.5" y2="869.31"/>
<line x1="1514.5" y1="918.48" x2="1551.5" y2="881.48"/>
<line x1="1514.5" y1="930.65" x2="1551.5" y2="893.65"/>
<line x1="1514.5" y1="942.82" x2="1551.5" y2="905.82"/>
<line x1="1514.5" y1="954.99" x2="1551.5" y2="917.99"/>
<line x1="1514.5" y1="967.16" x2="1551.5" y2="930.16"/>
<line x1="1514.5" y1="979.33" x2="1551.5" y2="942.33"/>
<line x1="1514.5" y1="991.5" x2="1551.5" y2="954.5"/>
<line x1="1514.5" y1="1003.67" x2="1551.5" y2="966.67"/>
<line x1="1514.5" y1="1015.84" x2="1551.5" y2="978.84"/>
<line x1="1514.5" y1="1028.01" x2="1551.5" y2="991.01"/>
<line x1="1514.5" y1="1040.18" x2="1551.5" y2="1003.18"/>
<line x1="1514.5" y1="1052.35" x2="1551.5" y2="1015.35"/>
<line x1="1514.5" y1="1064.52" x2="1551.5" y2="1027.52"/>
<line x1="1514.5" y1="1076.69" x2="1551.5" y2="1039.69"/>
<line x1="1514.5" y1="1088.86" x2="1551.5" y2="1051.86"/>
<line x1="1514.5" y1="1101.03" x2="1551.5" y2="1064.03"/>
<line x1="1514.5" y1="1113.2" x2="1551.5" y2="1076.2"/>
<line x1="1514.5" y1="1125.37" x2="1551.5" y2="1088.37"/>
<line x1="1514.5" y1="1137.54" x2="1551.5" y2="1100.54"/>
<line x1="1514.5" y1="1149.71" x2="1551.5" y2="1112.71"/>
<line x1="1514.5" y1="1161.88" x2="1551.5" y2="1124.88"/>
<line x1="1514.5" y1="1174.05" x2="1551.5" y2="1137.05"/>
<line x1="1514.5" y1="1186.22" x2="1551.5" y2="1149.22"/>
<line x1="1514.5" y1="1198.39" x2="1551.5" y2="1161.39"/>
<line x1="1514.5" y1="1210.56" x2="1551.5" y2="1173.56"/>
<line x1="1514.5" y1="1222.73" x2="1551.5" y2="1185.73"/>
<line x1="1514.5" y1="1234.9" x2="1551.5" y2="1197.9"/>
<line x1="1514.5" y1="1247.07" x2="1551.5" y2="1210.07"/>
<line x1="1514.5" y1="1259.24" x2="1551.5" y2="1222.24"/>
<line x1="1514.5" y1="1271.41" x2="1551.5" y2="1234.41"/>
<line x1="1514.5" y1="1283.58" x2="1551.5" y2="1246.58"/>
<line x1="1514.5" y1="1295.75" x2="1551.5" y2="1258.75"/>
<line x1="1514.5" y1="1307.92" x2="1551.5" y2="1270.92"/>
<line x1="1514.5" y1="1320.09" x2="1551.5" y2="1283.09"/>
<line x1="1514.5" y1="1332.26" x2="1551.5" y2="1295.26"/>
</g>
<line x1="1521" y1="1008.85" x2="1545.5" y2="1008.85" stroke="#999" stroke-width="1.2" stroke-linecap="butt"/>
<line x1="1521" y1="1026.75" x2="1545.5" y2="1026.75" stroke="#999" stroke-width="1.2" stroke-linecap="butt"/>
<line x1="1521" y1="1062.8" x2="1545.5" y2="1062.8" stroke="#999" stroke-width="1.2" stroke-linecap="butt"/>
<line x1="1521" y1="1080.7" x2="1545.5" y2="1080.7" stroke="#999" stroke-width="1.2" stroke-linecap="butt"/>
<line x1="1519.5" y1="122.7" x2="1519.5" y2="1316.6" stroke="#000" stroke-width="2.8" stroke-linecap="butt"/>
<line x1="1546.5" y1="122.7" x2="1546.5" y2="1289" stroke="#000" stroke-width="2.6" stroke-linecap="butt"/>
<line x1="1518" y1="124" x2="1547.8" y2="124" stroke="#000" stroke-width="2.6" stroke-linecap="butt"/>
<clipPath id="hs"><rect x="1519.5" y="1288.5" width="367.2" height="26.8"/></clipPath>
<g clip-path="url(#hs)" stroke="#000" stroke-width="2.8">
<line x1="1501.81" y1="1283.5" x2="1465.01" y2="1320.3"/>
<line x1="1513.97" y1="1283.5" x2="1477.17" y2="1320.3"/>
<line x1="1526.13" y1="1283.5" x2="1489.34" y2="1320.3"/>
<line x1="1538.3" y1="1283.5" x2="1501.5" y2="1320.3"/>
<line x1="1550.46" y1="1283.5" x2="1513.66" y2="1320.3"/>
<line x1="1562.63" y1="1283.5" x2="1525.83" y2="1320.3"/>
<line x1="1574.79" y1="1283.5" x2="1537.99" y2="1320.3"/>
<line x1="1586.96" y1="1283.5" x2="1550.16" y2="1320.3"/>
<line x1="1599.12" y1="1283.5" x2="1562.33" y2="1320.3"/>
<line x1="1611.29" y1="1283.5" x2="1574.49" y2="1320.3"/>
<line x1="1623.45" y1="1283.5" x2="1586.65" y2="1320.3"/>
<line x1="1635.62" y1="1283.5" x2="1598.82" y2="1320.3"/>
<line x1="1647.78" y1="1283.5" x2="1610.98" y2="1320.3"/>
<line x1="1659.95" y1="1283.5" x2="1623.15" y2="1320.3"/>
<line x1="1672.12" y1="1283.5" x2="1635.32" y2="1320.3"/>
<line x1="1684.28" y1="1283.5" x2="1647.48" y2="1320.3"/>
<line x1="1696.44" y1="1283.5" x2="1659.64" y2="1320.3"/>
<line x1="1708.61" y1="1283.5" x2="1671.81" y2="1320.3"/>
<line x1="1720.77" y1="1283.5" x2="1683.97" y2="1320.3"/>
<line x1="1732.94" y1="1283.5" x2="1696.14" y2="1320.3"/>
<line x1="1745.11" y1="1283.5" x2="1708.31" y2="1320.3"/>
<line x1="1757.27" y1="1283.5" x2="1720.47" y2="1320.3"/>
<line x1="1769.43" y1="1283.5" x2="1732.63" y2="1320.3"/>
<line x1="1781.6" y1="1283.5" x2="1744.8" y2="1320.3"/>
<line x1="1793.76" y1="1283.5" x2="1756.96" y2="1320.3"/>
<line x1="1805.93" y1="1283.5" x2="1769.13" y2="1320.3"/>
<line x1="1818.09" y1="1283.5" x2="1781.29" y2="1320.3"/>
<line x1="1830.26" y1="1283.5" x2="1793.46" y2="1320.3"/>
<line x1="1842.42" y1="1283.5" x2="1805.62" y2="1320.3"/>
<line x1="1854.59" y1="1283.5" x2="1817.79" y2="1320.3"/>
<line x1="1866.75" y1="1283.5" x2="1829.95" y2="1320.3"/>
<line x1="1878.92" y1="1283.5" x2="1842.12" y2="1320.3"/>
<line x1="1891.09" y1="1283.5" x2="1854.29" y2="1320.3"/>
<line x1="1903.25" y1="1283.5" x2="1866.45" y2="1320.3"/>
<line x1="1915.41" y1="1283.5" x2="1878.62" y2="1320.3"/>
<line x1="1927.58" y1="1283.5" x2="1890.78" y2="1320.3"/>
</g>
<line x1="1519.5" y1="1288.5" x2="1888" y2="1288.5" stroke="#000" stroke-width="3" stroke-linecap="butt"/>
<line x1="1518" y1="1315.4" x2="1888" y2="1315.4" stroke="#000" stroke-width="2.5" stroke-linecap="butt"/>
<line x1="1886.7" y1="1288" x2="1886.7" y2="1316" stroke="#000" stroke-width="2.8" stroke-linecap="butt"/>
<line x1="1513.7" y1="164" x2="1545" y2="164" stroke="#000" stroke-width="2.5" stroke-linecap="round"/>
<polygon points="1546,164 1530,166.8 1530,161.2" fill="#000"/>
<line x1="1566.9" y1="150.3" x2="1566.9" y2="199.3" stroke="#000" stroke-width="2.5" stroke-linecap="round"/>
<line x1="1569" y1="164" x2="1643.2" y2="164" stroke="#000" stroke-width="2.5" stroke-linecap="round"/>
<polygon points="1568,164 1584,161.2 1584,166.8" fill="#000"/>
<text font-size="33" text-anchor="middle" transform="translate(1621.5 157.3) scale(1 1.06)">38</text>
<line x1="1559.5" y1="204.5" x2="1559.5" y2="693.4" stroke="#000" stroke-width="2.6" stroke-linecap="butt"/>
<line x1="1565.6" y1="204.5" x2="1565.6" y2="693.4" stroke="#000" stroke-width="5" stroke-linecap="butt"/>
<line x1="1558.5" y1="205.3" x2="1568.1" y2="205.3" stroke="#000" stroke-width="2" stroke-linecap="butt"/>
<line x1="1558.5" y1="692.8" x2="1568.1" y2="692.8" stroke="#000" stroke-width="2" stroke-linecap="butt"/>
<line x1="1547" y1="220.5" x2="1559" y2="220.5" stroke="#000" stroke-width="2" stroke-linecap="butt"/>
<line x1="1547" y1="683.4" x2="1559" y2="683.4" stroke="#000" stroke-width="2" stroke-linecap="butt"/>
<rect x="1567.5" y="719.5" width="23" height="106.5" rx="0" fill="none" stroke="#000" stroke-width="2.5"/>
<line x1="1566.3" y1="734.2" x2="1591.7" y2="734.2" stroke="#000" stroke-width="3.1" stroke-linecap="butt"/>
<rect x="1564.8" y="824" width="28.4" height="5" rx="1" fill="#000"/>
<path d="M1590.5 745.6 H1637 C1651 745.6 1657 752 1660.6 760.4" fill="none" stroke="#000" stroke-width="2.8"/>
<path d="M1590.5 758.5 H1637.7 C1644 758.5 1646.2 762.5 1648.4 767.6" fill="none" stroke="#000" stroke-width="2.8"/>
<line x1="1647.6" y1="766.6" x2="1660.2" y2="759" stroke="#000" stroke-width="5" stroke-linecap="butt"/>
<line x1="1649.2" y1="765.4" x2="1658.6" y2="759.8" stroke="#ddd" stroke-width="0.9" stroke-linecap="butt"/>
<path d="M1590 745.6 A3.6 6.5 0 0 0 1590 758.5" fill="none" stroke="#000" stroke-width="2.4"/>
<line x1="1849.7" y1="776.6" x2="1849.7" y2="821" stroke="#000" stroke-width="2.5" stroke-linecap="round"/>
<line x1="1547.5" y1="789.7" x2="1849.7" y2="789.7" stroke="#000" stroke-width="2.5" stroke-linecap="butt"/>
<polygon points="1547.5,789.7 1563.5,786.9 1563.5,792.5" fill="#000"/>
<polygon points="1849.7,789.7 1833.7,792.5 1833.7,786.9" fill="#000"/>
<text font-size="33" text-anchor="middle" transform="translate(1698 782.5) scale(1 1.06)">560</text>
<line x1="1550" y1="835" x2="1846" y2="835" stroke="#bdbdbd" stroke-width="1" stroke-linecap="butt"/>
<line x1="1553" y1="835" x2="1553" y2="849" stroke="#bdbdbd" stroke-width="1" stroke-linecap="butt"/>
<line x1="1838" y1="835" x2="1838" y2="849" stroke="#bdbdbd" stroke-width="1" stroke-linecap="butt"/>
<line x1="1844.5" y1="835" x2="1844.5" y2="849" stroke="#bdbdbd" stroke-width="1" stroke-linecap="butt"/>
<line x1="1844.5" y1="835" x2="1850" y2="829" stroke="#bdbdbd" stroke-width="1" stroke-linecap="butt"/>
<rect x="1546.5" y="828.6" width="303.8" height="21" rx="0" fill="none" stroke="#000" stroke-width="2.6"/>
<line x1="1556.8" y1="850" x2="1556.8" y2="881" stroke="#000" stroke-width="2.6" stroke-linecap="butt"/>
<rect x="1556.8" y="852.6" width="36.9" height="27.1" rx="0" fill="none" stroke="#000" stroke-width="2.5"/>
<circle cx="1565.9" cy="856.8" r="2.3" fill="#000"/>
<circle cx="1590.2" cy="856.8" r="2.3" fill="#000"/>
<circle cx="1565.9" cy="875.4" r="2.3" fill="#000"/>
<circle cx="1590.2" cy="875.4" r="2.3" fill="#000"/>
<circle cx="1577.9" cy="865.8" r="2.7" fill="none" stroke="#000" stroke-width="2.4"/>
<line x1="1547" y1="862.9" x2="1556.5" y2="862.9" stroke="#000" stroke-width="1.8" stroke-linecap="butt"/>
<line x1="1547" y1="867.6" x2="1556.5" y2="867.6" stroke="#000" stroke-width="1.8" stroke-linecap="butt"/>
<path d="M1556.7 850 V893.8 L1547.8 904.2" fill="none" stroke="#000" stroke-width="2.5" stroke-linejoin="round"/>
<path d="M1547.8 917.8 L1556.7 910.6 V954.6 H1547.8" fill="none" stroke="#000" stroke-width="2.5" stroke-linejoin="round"/>
<line x1="1600.6" y1="973.22" x2="1600.6" y2="990.38" stroke="#000" stroke-width="2.3" stroke-linecap="round"/>
<line x1="1547.8" y1="984.1" x2="1600.4" y2="984.1" stroke="#000" stroke-width="2.8" stroke-linecap="butt"/>
<polygon points="1547.8,984.1 1558.3,981.9 1558.3,986.3" fill="#000"/>
<polygon points="1600.4,984.1 1589.9,986.3 1589.9,981.9" fill="#000"/>
<text font-size="23.5" text-anchor="middle" transform="translate(1573.3 977.2) scale(1 1.1)">100</text>
<path d="M1601.5 1039 V996.7 H1610.9 V1039" fill="none" stroke="#000" stroke-width="2.4"/>
<line x1="1546.5" y1="1039.2" x2="1849.8" y2="1039.2" stroke="#000" stroke-width="2.6" stroke-linecap="butt"/>
<line x1="1649.5" y1="931.2" x2="1836" y2="931.2" stroke="#000" stroke-width="2.8" stroke-linecap="butt"/>
<line x1="1650.6" y1="931" x2="1650.6" y2="1014.5" stroke="#000" stroke-width="2.6" stroke-linecap="butt"/>
<line x1="1658.8" y1="931" x2="1658.8" y2="1004" stroke="#000" stroke-width="2.4" stroke-linecap="butt"/>
<line x1="1763.6" y1="931" x2="1763.6" y2="1013" stroke="#000" stroke-width="2.5" stroke-linecap="butt"/>
<line x1="1772" y1="931" x2="1772" y2="1004" stroke="#000" stroke-width="2.5" stroke-linecap="butt"/>
<line x1="1649.5" y1="1004.4" x2="1836" y2="1004.4" stroke="#000" stroke-width="2.8" stroke-linecap="butt"/>
<line x1="1649.5" y1="1013.6" x2="1836" y2="1013.6" stroke="#000" stroke-width="2.6" stroke-linecap="butt"/>
<rect x="1651.8" y="1009" width="6.7" height="5.5" rx="1.5" fill="#000"/>
<rect x="1687" y="1009" width="7.5" height="5.5" rx="1.5" fill="#000"/>
<rect x="1790.5" y="1009" width="8.5" height="5.5" rx="1.5" fill="#000"/>
<rect x="1755.3" y="1029.5" width="80.7" height="9.7" rx="0" fill="none" stroke="#000" stroke-width="2.5"/>
<path d="M1826.4 850 V893.3 H1836" fill="none" stroke="#000" stroke-width="2.5"/>
<line x1="1836" y1="850" x2="1836" y2="1039" stroke="#000" stroke-width="2.5" stroke-linecap="butt"/>
<line x1="1836" y1="866.4" x2="1844" y2="866.4" stroke="#000" stroke-width="2.4" stroke-linecap="butt"/>
<line x1="1836" y1="898.7" x2="1844" y2="898.7" stroke="#000" stroke-width="2.4" stroke-linecap="butt"/>
<line x1="1836" y1="1007" x2="1844" y2="1007" stroke="#000" stroke-width="2" stroke-linecap="butt"/>
<line x1="1846.4" y1="863" x2="1846.4" y2="1040.4" stroke="#000" stroke-width="6.6" stroke-linecap="butt"/>
<line x1="1847.22" y1="865.12" x2="1855.58" y2="874.28" stroke="#000" stroke-width="3.8" stroke-linecap="round"/>
<line x1="1502.2" y1="1017.6" x2="1515.5" y2="1017.6" stroke="#555" stroke-width="1" stroke-linecap="butt"/>
<line x1="1525.6" y1="1017.6" x2="1542.8" y2="1017.6" stroke="#555" stroke-width="1" stroke-linecap="butt"/>
<line x1="1553.7" y1="1017.6" x2="1566.5" y2="1017.6" stroke="#555" stroke-width="1" stroke-linecap="butt"/>
<line x1="1502.2" y1="1071.5" x2="1515.5" y2="1071.5" stroke="#555" stroke-width="1" stroke-linecap="butt"/>
<line x1="1525.6" y1="1071.5" x2="1542.8" y2="1071.5" stroke="#555" stroke-width="1" stroke-linecap="butt"/>
<line x1="1553.7" y1="1071.5" x2="1566.5" y2="1071.5" stroke="#555" stroke-width="1" stroke-linecap="butt"/>
<line x1="1437" y1="1017.6" x2="1495.8" y2="1017.6" stroke="#000" stroke-width="2.5" stroke-linecap="round"/>
<line x1="1476.5" y1="1071.5" x2="1495.8" y2="1071.5" stroke="#000" stroke-width="2.5" stroke-linecap="round"/>
<line x1="1437" y1="1288.2" x2="1512.8" y2="1288.2" stroke="#000" stroke-width="2.5" stroke-linecap="round"/>
<line x1="1450.5" y1="1017.6" x2="1450.5" y2="1288.2" stroke="#000" stroke-width="2.5" stroke-linecap="butt"/>
<polygon points="1450.5,1017.6 1453.3,1033.6 1447.7,1033.6" fill="#000"/>
<polygon points="1450.5,1288.2 1447.7,1272.2 1453.3,1272.2" fill="#000"/>
<line x1="1490" y1="1071.5" x2="1490" y2="1288.2" stroke="#000" stroke-width="2.5" stroke-linecap="butt"/>
<polygon points="1490,1071.5 1492.8,1087.5 1487.2,1087.5" fill="#000"/>
<polygon points="1490,1288.2 1487.2,1272.2 1492.8,1272.2" fill="#000"/>
<text font-size="33" text-anchor="middle" transform="translate(1444.6 1152.5) rotate(-90) scale(1 1.06)">500</text>
<text font-size="33" text-anchor="middle" transform="translate(1482.1 1180) rotate(-90) scale(1 1.06)">400</text>
</svg>
</body></html>
